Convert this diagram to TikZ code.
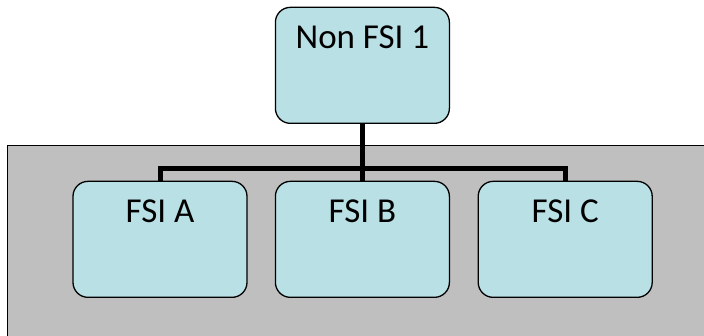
\documentclass[tikz,border=0pt]{standalone}
\usepackage{fontspec}
\setmainfont{Carlito}
\definecolor{boxfill}{RGB}{185,224,228}
\definecolor{panel}{RGB}{191,191,191}
\begin{document}
\begin{tikzpicture}[x=1pt,y=-1pt,
  orgbox/.style={draw=black,line width=1.3pt,fill=boxfill,rounded corners=15pt,
    minimum width=174pt,inner sep=0pt,text height=41pt,text depth=75pt,
    font=\fontsize{35}{38}\selectfont,anchor=north},
  conn/.style={line width=5pt,line join=miter}]
\useasboundingbox (0,0) rectangle (704,336);
\draw[fill=panel,line width=1.3pt] (7.5,145.7) rectangle (712,345);
\node[orgbox] (top) at (362.4,6.7) {Non FSI 1};
\node[orgbox] (a) at (160,180.7) {FSI A};
\node[orgbox] (b) at (362.4,180.7) {FSI B};
\node[orgbox] (c) at (565.2,180.7) {FSI C};
\coordinate (bus) at (362.4,169);
\draw[conn] (top.south) -- (bus);
\draw[conn] (a.north) |- (bus) -| (c.north);
\draw[conn] (bus) -- (b.north);
\end{tikzpicture}
\end{document}
